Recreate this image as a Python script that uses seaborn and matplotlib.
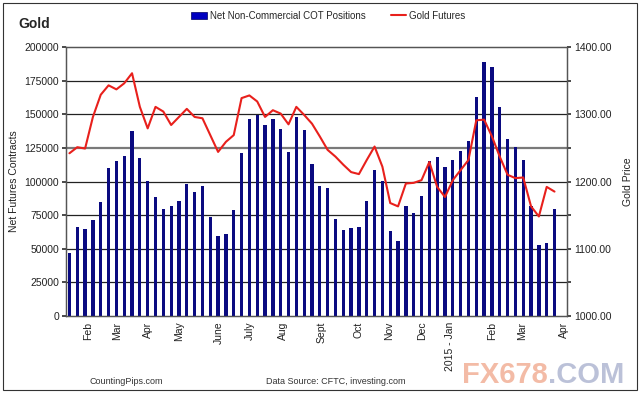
import numpy as np
import pandas as pd
import matplotlib
matplotlib.use("Agg")
import matplotlib.pyplot as plt
import seaborn as sns
from matplotlib.patches import Patch, Rectangle
from matplotlib.lines import Line2D

# ---- data (weekly, Jan 2014 - Mar 2015) ----
cot_positions = [46600, 66400, 64900, 71400, 84800, 109800, 115200, 119000, 137500, 117500,
                 100100, 88500, 79300, 82000, 85500, 98400, 91900, 96400, 73600, 59500,
                 61000, 78600, 120900, 146500, 149400, 142000, 146200, 139300, 121700, 148000,
                 138000, 113300, 96900, 95400, 72100, 63700, 65200, 66400, 85500, 108300,
                 100100, 62900, 55800, 81500, 76300, 89200, 115000, 118000, 111000, 116000,
                 122400, 130100, 162600, 188800, 185400, 155600, 131600, 125900, 116000, 82000,
                 53000, 54500, 79800]
gold_price = [1242, 1251, 1249, 1296, 1329, 1343, 1337, 1346, 1361, 1311,
              1279, 1311, 1304, 1284, 1296, 1308, 1296, 1294, 1269, 1244,
              1259, 1269, 1324, 1328, 1319, 1296, 1306, 1301, 1285, 1311,
              1299, 1286, 1267, 1247, 1237, 1225, 1214, 1211, 1232, 1252,
              1222, 1168, 1163, 1197, 1198, 1202, 1229, 1192, 1177, 1202,
              1217, 1232, 1291, 1292, 1267, 1237, 1210, 1205, 1206, 1163,
              1148, 1192, 1185]
month_labels = ["Feb", "Mar", "Apr", "May", "June", "July", "Aug", "Sept",
                "Oct", "Nov", "Dec", "2015 - Jan", "Feb", "Mar", "Apr"]
month_pos = [2.35, 6.06, 10.1, 14.0, 19.1, 23.1, 27.3, 32.2,
             37.0, 40.9, 45.1, 48.7, 54.0, 57.8, 63.2]
left_ticks = [0, 25000, 50000, 75000, 100000, 125000, 150000, 175000, 200000]
right_ticks = [1000, 1050, 1100, 1150, 1200, 1250, 1300, 1350, 1400]

week = np.arange(len(cot_positions))
df = pd.DataFrame({"week": week, "cot": cot_positions, "price": gold_price})

sns.set_theme(style="white")
plt.rcParams["font.family"] = ["Liberation Sans", "DejaVu Sans"]

fig = plt.figure(figsize=(6.4, 3.95), dpi=100)
ax = fig.add_axes([0.103, 0.2, 0.783, 0.681])

bar_color = "#0a0a80"
line_color = "#e8201c"

sns.barplot(data=df, x="week", y="cot", native_scale=True, width=0.42,
            color=bar_color, saturation=1, edgecolor="none", ax=ax, zorder=3)
ax.set_xlim(-0.45, 63.6)
ax.set_ylim(0, 200000)
ax.set_yticks(left_ticks)
ax.set_yticklabels([str(t) for t in left_ticks], fontsize=7.5, color="#222222")
for t in left_ticks[1:-1]:
    if t == 125000:
        ax.axhline(t, color="#7a7a7a", lw=1.6, zorder=1)
    else:
        ax.axhline(t, color="#222222", lw=0.9, zorder=1)
ax.set_xticks(month_pos)
ax.set_xticklabels(month_labels, rotation=90, fontsize=7.5, color="#222222")
ax.tick_params(axis="x", length=0, pad=4)
ax.set_xticks(np.arange(-0.5, 63.6, 1.0), minor=True)
ax.tick_params(axis="x", which="minor", length=3, direction="inout", color="#333333", width=0.7)
ax.tick_params(axis="y", length=3, direction="out", color="#333333", pad=2, left=True)
ax.set_xlabel("")
ax.set_ylabel("Net Futures Contracts", fontsize=7.5, color="#222222", labelpad=4)
for s in ax.spines.values():
    s.set_color("#555555")
    s.set_linewidth(0.9)

ax2 = ax.twinx()
sns.lineplot(data=df, x="week", y="price", color=line_color, lw=1.5, ax=ax2, zorder=4)
ax2.set_ylim(1000, 1400)
ax2.set_yticks(right_ticks)
ax2.set_yticklabels([f"{t:.2f}" if t % 100 == 0 else "" for t in right_ticks],
                    fontsize=7.5, color="#222222")
ax2.tick_params(axis="y", length=3, direction="out", color="#333333", pad=2, right=True)
ax2.set_ylabel("Gold Price", fontsize=7.5, color="#222222", labelpad=8)
ax2.set_xlim(-0.45, 63.6)
ax2.grid(False)
for s in ax2.spines.values():
    s.set_color("#555555")
    s.set_linewidth(0.9)

# title & legend
fig.text(0.028, 0.94, "Gold", fontsize=10, fontweight="bold", ha="left", va="center")
handles = [Patch(facecolor="#0000c0", edgecolor="#000060", lw=0.5),
           Line2D([0], [0], color=line_color, lw=1.5)]
fig.legend(handles, ["Net Non-Commercial COT Positions", "Gold Futures"],
           loc="center left", bbox_to_anchor=(0.285, 0.96), ncol=2, frameon=False,
           fontsize=7, handlelength=1.6, handletextpad=0.3, columnspacing=2.6)

# footer
fig.text(0.14, 0.035, "CountingPips.com", fontsize=6.5, color="#333333", ha="left", va="center")
fig.text(0.415, 0.035, "Data Source: CFTC, investing.com", fontsize=6.5, color="#333333",
         ha="left", va="center")

# watermark (two colours, contiguous)
t1 = fig.text(462 / 640, 0.05, "FX678", fontsize=21, fontweight="bold", color="#f2b49c",
              ha="left", va="center", alpha=0.9)
fig.canvas.draw()
bb = t1.get_window_extent(renderer=fig.canvas.get_renderer())
fig.text(bb.x1 / fig.bbox.width, 0.05, ".COM", fontsize=21, fontweight="bold",
         color="#b4bbd4", ha="left", va="center", alpha=0.9)

# outer frame
fig.patches.append(Rectangle((0.005, 0.012), 0.99, 0.98, transform=fig.transFigure,
                             fill=False, edgecolor="#333333", lw=0.8))

fig.savefig("out.png", dpi=100)
